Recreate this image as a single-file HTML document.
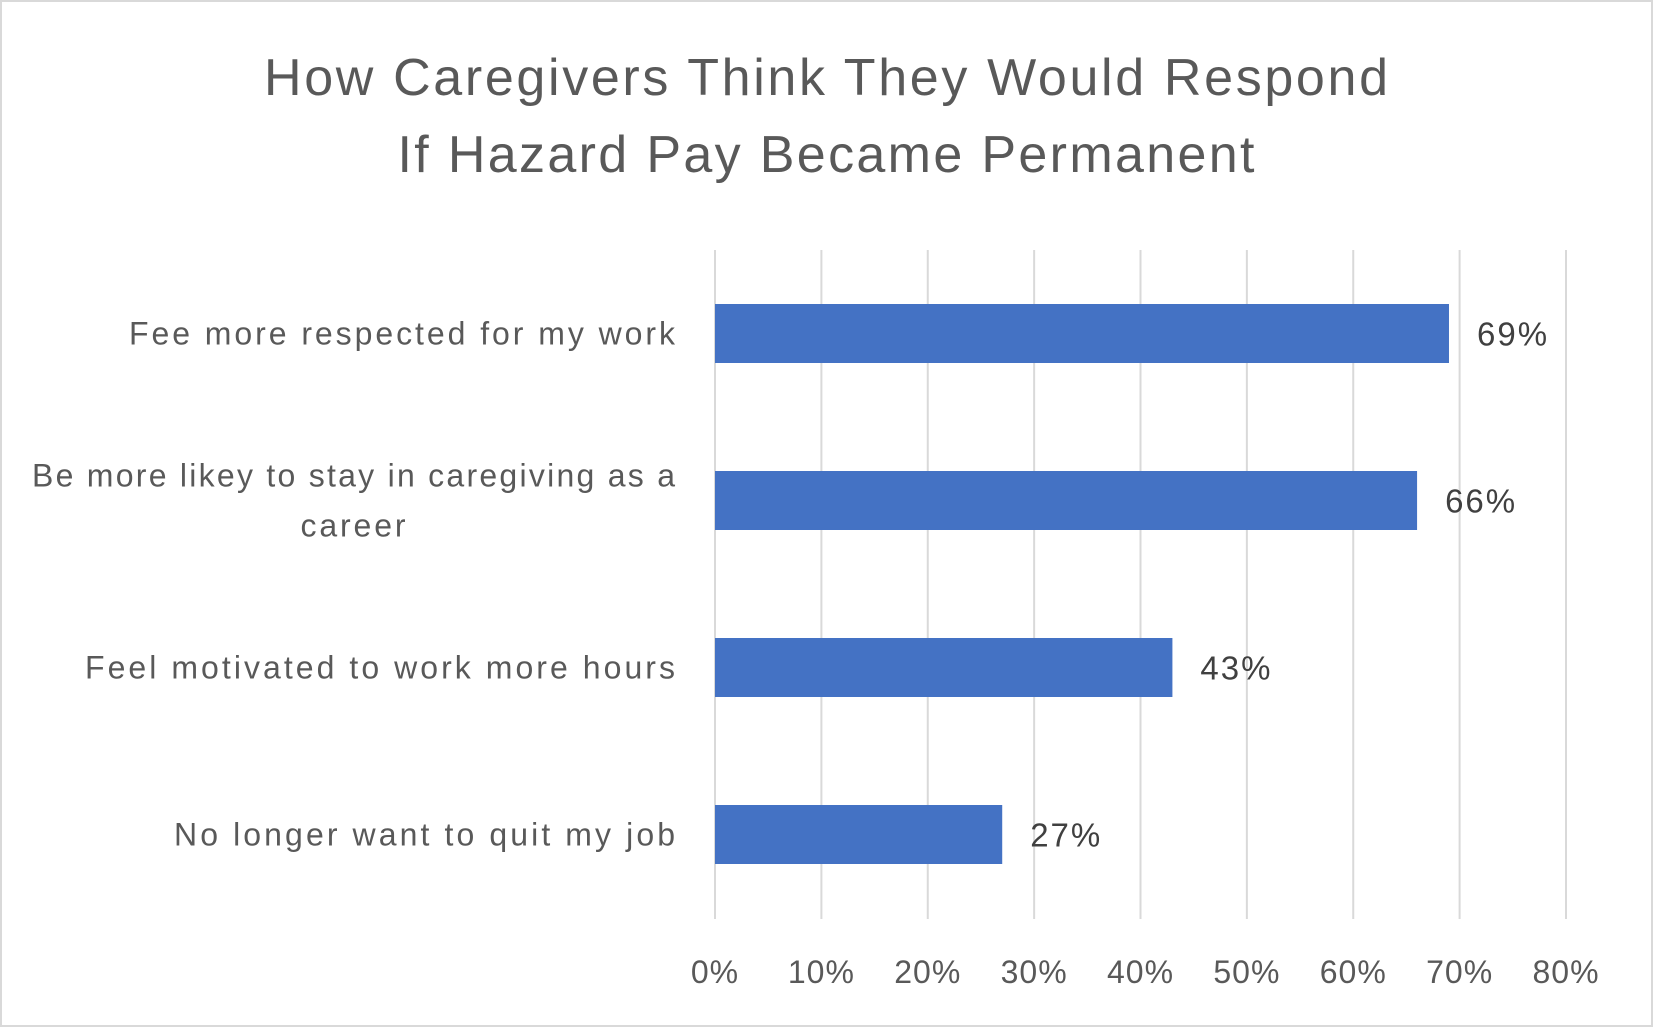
<!DOCTYPE html>
<html><head><meta charset="utf-8"><style>
html,body{margin:0;padding:0;background:#fff;}
svg{display:block;font-family:"Liberation Sans",sans-serif;}
</style></head><body>
<svg id="chart" width="1653" height="1027" viewBox="0 0 1653 1027">
<rect x="1" y="1" width="1651" height="1025" fill="#fff" stroke="#d9d9d9" stroke-width="2"/>
<text x="826" y="95" text-anchor="middle" font-size="52" fill="#595959" textLength="1124" lengthAdjust="spacing">How Caregivers Think They Would Respond</text>
<text x="826" y="172" text-anchor="middle" font-size="52" fill="#595959" textLength="857" lengthAdjust="spacing">If Hazard Pay Became Permanent</text>
<g id="grid"></g><g id="bars"></g><g id="labels"></g>
</svg>
<script>
const categories=[["Fee more respected for my work"],["Be more likey to stay in caregiving as a","career"],["Feel motivated to work more hours"],["No longer want to quit my job"]];
const labelWidths=[[546],[643,105],[590],[501]];
const values=[69,66,43,27];
const ticks=[0,10,20,30,40,50,60,70,80];
const NS="http://www.w3.org/2000/svg";
const x0=715,x1=1566,yTop=250,yBot=919,bandTop=250,band=167;
const xs=v=>x0+(v/80)*(x1-x0);
const yc=i=>bandTop+band*(i+0.5);
function mk(t,a,p){const e=document.createElementNS(NS,t);for(const k in a)e.setAttribute(k,a[k]);p.appendChild(e);return e;}
const g=document.getElementById('grid'),b=document.getElementById('bars'),l=document.getElementById('labels');
ticks.forEach(t=>{
 const ln=mk('line',{x1:xs(t),x2:xs(t),y1:yTop,y2:yBot,stroke:'#d9d9d9','stroke-width':2},g);
 
 
 const tx=mk('text',{x:xs(t),y:983,'text-anchor':'middle','font-size':32,fill:'#595959','letter-spacing':1},l);
 tx.textContent=t+'%';
 
 
});
values.forEach((v,i)=>{
 const r=mk('rect',{x:xs(0),y:yc(i)-29.5,width:xs(v)-xs(0),height:59,fill:'#4472c4'},b);
 
 
 const vt=mk('text',{x:xs(v)+28,y:yc(i)+12,'font-size':33,fill:'#404040','letter-spacing':2},l);
 vt.textContent=v+'%';
 
 
 const lines=categories[i];
 lines.forEach((s,j)=>{
  const off=(j-(lines.length-1)/2)*50;
  const multi=lines.length>1;
  const ct=mk('text',{x:multi&&j>0?353:675,y:yc(i)+11+off,'text-anchor':multi&&j>0?'middle':'end','font-size':32,fill:'#595959',textLength:labelWidths[i][j],lengthAdjust:'spacing'},l);
  ct.textContent=s;
  
  
 });
});
</script>
</body></html>
